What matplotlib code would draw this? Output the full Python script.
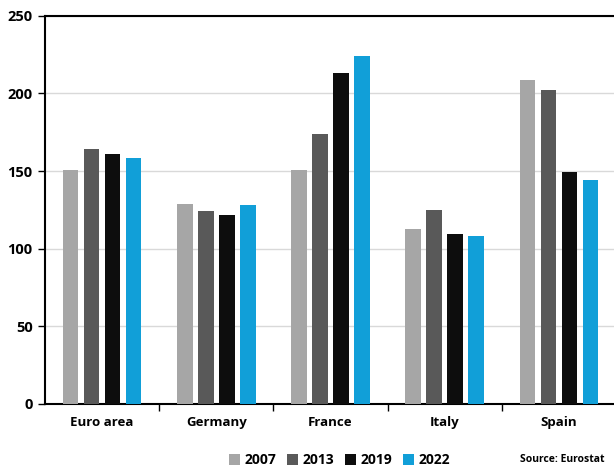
import numpy as np
import matplotlib
matplotlib.use("Agg")
import matplotlib.pyplot as plt

countries = ["Euro area", "Germany", "France", "Italy", "Spain"]
years = ["2007", "2013", "2019", "2022"]
v2007 = [151, 129, 151, 113, 209]
v2013 = [164, 124, 174, 125, 202]
v2019 = [161, 122, 213, 109.5, 149.5]
v2022 = [158.5, 128, 224, 108.5, 144.5]
colors = ["#A6A6A6", "#595959", "#0D0D0D", "#119FD8"]

plt.rcParams['font.family'] = ['Open Sans', 'DejaVu Sans']

fig = plt.figure(figsize=(6.14, 4.67), dpi=100)
ax = fig.add_axes([0.0733, 0.135, 0.93, 0.831])

x = np.arange(len(countries))
w = 0.136
step = 0.184
for i, (vals, c, yr) in enumerate(zip([v2007, v2013, v2019, v2022], colors, years)):
    ax.bar(x + (i - 1.5) * step, vals, width=w, color=c, label=yr, zorder=3)

ax.set_xlim(-0.5, len(countries) - 0.5)
ax.set_ylim(0, 250)
ax.set_yticks(range(0, 251, 50))
ax.set_yticklabels([str(t) for t in range(0, 251, 50)], fontweight='bold', fontsize=10.5)
ax.yaxis.grid(True, color='#D9D9D9', linewidth=1, zorder=0)
ax.set_xticks(x)
ax.set_xticklabels(countries, fontweight='bold', fontsize=9.5)
ax.tick_params(axis='x', length=0, pad=9)
ax.set_xticks(np.arange(0.5, len(countries) - 0.5), minor=True)
ax.tick_params(axis='x', which='minor', length=5, width=1, direction='out')
ax.tick_params(axis='y', length=5, width=1, direction='out', pad=4)
for s in ['left', 'bottom', 'top']:
    ax.spines[s].set_linewidth(1.5)
    ax.spines[s].set_color('black')
ax.spines['right'].set_visible(False)

leg = fig.legend(loc='lower center', bbox_to_anchor=(0.553, -0.027), ncol=4, frameon=False,
                 handlelength=0.8, handleheight=0.8, handletextpad=0.3, columnspacing=0.8,
                 prop={'weight': 'bold', 'size': 10})

fig.text(0.985, 0.004, "Source: Eurostat", ha='right', va='bottom', fontsize=7.5, fontweight='bold')

fig.savefig("out.png", dpi=100)
